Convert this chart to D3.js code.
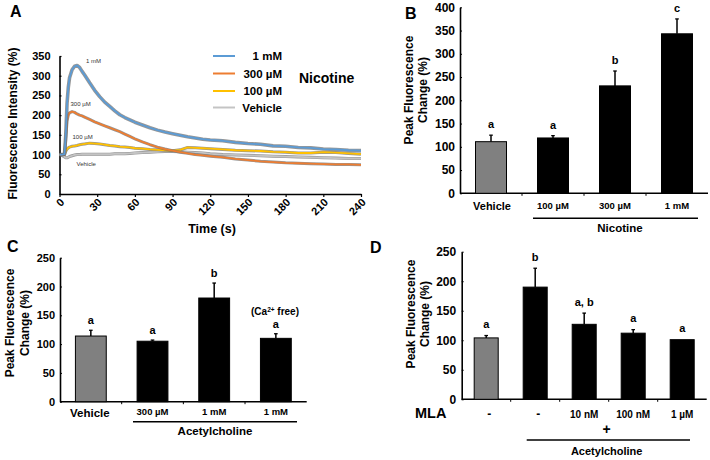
<!DOCTYPE html>
<html><head><meta charset="utf-8">
<script src="https://cdn.jsdelivr.net/npm/d3@7"></script>
<style>body{margin:0;background:#fff}svg{display:block}text{font-family:"Liberation Sans",Arial,sans-serif}</style>
</head><body>
<script>
// ---------- DATA ----------
// Panel A: time course (Nicotine)
const timeA = [0,2,4,5,6,7,8,10,12,14,16,18,20,24,28,32,36,40,44,48,52,56,60,66,72,78,84,90,96,102,108,114,120,130,140,150,160,170,180,190,200,210,220,230,240];
const nic1mM   = [100,100,101,150,230,270,295,315,324,326,321,311,302,282,263,247,233,222,211,201,194,188,182,175,168,162,157,153,149,145,142,139,137,135,131,128,126,122,121,118,117,114,113,111,110];
const nic300uM = [100,99,100,140,185,200,206,209,207,203,200,198,195,189,183,178,173,168,163,158,152,146,140,132,125,119,114,110,106,103,100,98,96,93,89,86,83,81,79,78,77,76,75,75,74];
const nic100uM = [100,100,101,108,114,117,119,121,122,123,125,126,127,129,128,127,125,123,122,120,119,118,116,115,113,112,111,110,112,118,117,116,115,113,111,110,109,107,106,104,104,106,105,103,101];
const vehicleA = [100,98,94,92,92,93,95,97,99,100,100,101,101,101,101,101,101,101,102,102,102,103,104,105,106,107,108,108,107,106,105,104,102,100,99,98,97,96,95,94,93,92,91,90,90];
const seriesNamesA = ["1 mM","300 µM","100 µM","Vehicle"];
const inlineLabelsA = ["1 mM","300 µM","100 µM","Vehicle"];
const yTicksA = [0,50,100,150,200,250,300,350];
const xTicksA = [0,30,60,90,120,150,180,210,240];

// Panel B: peak fluorescence, nicotine
const catsB = ["Vehicle","100 µM","300 µM","1 mM"];
const valsB = [111,119,231,343];
const errB  = [14,5,32,32];
const letB  = ["a","a","b","c"];
const yTicksB = [0,50,100,150,200,250,300,350,400];

// Panel C: acetylcholine
const catsC = ["Vehicle","300 µM","1 mM","1 mM"];
const valsC = [114,105,180,110];
const errC  = [10,2,26,8];
const letC  = ["a","a","b","a"];
const yTicksC = [0,50,100,150,200,250];

// Panel D: MLA + acetylcholine
const catsD = ["-","-","10 nM","100 nM","1 µM"];
const valsD = [104,190,127,112,101];
const errD  = [4,32,19,6,0];
const letD  = ["a","b","a, b","a","a"];
const yTicksD = [0,50,100,150,200,250];

// ---------- DRAW ----------
const svg = d3.select("body").append("svg").attr("width",710).attr("height",460);
const BOLD = "bold";

function txt(x,y,s,size,opts={}){
  const t = svg.append("text").attr("x",x).attr("y",y).text(s)
    .attr("font-size",size).attr("font-weight",opts.weight||BOLD)
    .attr("text-anchor",opts.anchor||"start").attr("fill",opts.fill||"#000");
  if(opts.rotate){ t.attr("transform",`rotate(${opts.rotate},${x},${y})`); }
  if(opts.len){ t.attr("textLength",opts.len).attr("lengthAdjust","spacingAndGlyphs"); }
  return t;
}

// ===== Panel A =====
const xA = d3.scaleLinear().domain([0,240]).range([59.5,361]);
const yA = d3.scaleLinear().domain([0,350]).range([194,56]);

const gyA = svg.append("g").attr("transform",`translate(${xA(0)},0)`)
  .call(d3.axisLeft(yA).tickValues(yTicksA).tickSize(-2).tickSizeOuter(0).tickPadding(9));
const gxA = svg.append("g").attr("transform",`translate(0,${yA(0)})`)
  .call(d3.axisBottom(xA).tickValues(xTicksA).tickSize(3).tickSizeOuter(0));
[gyA,gxA].forEach(g=>{
  g.attr("font-family",null).attr("font-size",null);
  g.select(".domain").attr("stroke","#000").attr("stroke-width",1.6);
  g.selectAll(".tick line").attr("stroke","#000").attr("stroke-width",1.2);
  g.selectAll("text").attr("font-size",11).attr("font-weight",BOLD).attr("fill","#000");
});
gxA.selectAll(".tick text").attr("y",0).attr("dy",0).attr("text-anchor","end")
  .attr("transform","translate(5,9) rotate(-45)");

const colorsA = ["#5b9bd5","#ed7d31","#ffc000","#c4c4c4"];
const dataA = [nic1mM,nic300uM,nic100uM,vehicleA];
const lineA = d3.line().x((d,i)=>xA(timeA[i])).y(d=>yA(d));
const order = [3,2,1,0];
order.forEach(k=>{
  svg.append("path").datum(dataA[k]).attr("d",lineA).attr("fill","none")
    .attr("stroke","#6a6a6a").attr("stroke-width",k===0?3.6:3.0).attr("stroke-opacity",0.7)
    .attr("stroke-linejoin","round");
  svg.append("path").datum(dataA[k]).attr("d",lineA).attr("fill","none")
    .attr("stroke",colorsA[k]).attr("stroke-width",1.8).attr("stroke-linejoin","round");
});
// inline small labels
const inlinePos = [[86,63],[70.5,105.5],[72.5,138.5],[76.5,165.5]];
inlineLabelsA.forEach((s,i)=>txt(inlinePos[i][0],inlinePos[i][1],s,6,{weight:"normal",fill:"#333"}));

// legend
const legY = [56,73.5,91,107.5];
seriesNamesA.forEach((s,i)=>{
  svg.append("line").attr("x1",213).attr("x2",235).attr("y1",legY[i]).attr("y2",legY[i])
    .attr("stroke",colorsA[i]).attr("stroke-width",2);
  txt(282,legY[i]+4,s,11.5,{anchor:"end"});
});
txt(299,82.5,"Nicotine",14);
txt(212,232.5,"Time (s)",12.5,{anchor:"middle"});
txt(17,123.5,"Fluorescence Intensity (%)",12,{anchor:"middle",rotate:-90});
txt(10,17,"A",16);

// ===== Bar panel helper =====
function barPanel(cfg){
  const x = d3.scaleBand().domain(d3.range(cfg.cats.length)).range([cfg.x0,cfg.x1])
    .paddingInner(cfg.pin).paddingOuter(cfg.pout);
  const y = d3.scaleLinear().domain([0,cfg.ymax]).range([cfg.yb,cfg.yt]);
  const gy = svg.append("g").attr("transform",`translate(${cfg.x0},0)`)
    .call(d3.axisLeft(y).tickValues(cfg.ticks).tickSize(-2).tickSizeOuter(0).tickPadding(cfg.tpad));
  gy.attr("font-family",null).attr("font-size",null);
  gy.select(".domain").attr("stroke","#000").attr("stroke-width",1.6);
  gy.selectAll(".tick line").attr("stroke","#000");
  gy.selectAll("text").attr("font-size",cfg.tfs).attr("font-weight",BOLD).attr("fill","#000");
  svg.append("line").attr("x1",cfg.x0).attr("x2",cfg.x1).attr("y1",y(0)).attr("y2",y(0))
    .attr("stroke","#000").attr("stroke-width",1.6);
  const step = x.step();
  d3.range(1,cfg.cats.length).forEach(i=>{
    const xx = cfg.x0 + step*(i - cfg.pin/2) + step*cfg.pout;
    svg.append("line").attr("x1",xx).attr("x2",xx).attr("y1",y(0)).attr("y2",y(0)+2.5)
      .attr("stroke","#000").attr("stroke-width",1);
  });
  cfg.vals.forEach((v,i)=>{
    const bx = x(i), bw = x.bandwidth();
    const cx = bx + bw/2;
    const e = cfg.err[i];
    if(e>0){
      svg.append("line").attr("x1",cx).attr("x2",cx).attr("y1",y(v)).attr("y2",y(v+e))
        .attr("stroke","#000").attr("stroke-width",1.5);
      svg.append("line").attr("x1",cx-1.8).attr("x2",cx+1.8).attr("y1",y(v+e)).attr("y2",y(v+e))
        .attr("stroke","#000").attr("stroke-width",1.3);
    }
    svg.append("rect").attr("x",bx).attr("y",y(v)).attr("width",bw).attr("height",y(0)-y(v))
      .attr("fill",i===0?"#808080":"#000").attr("stroke","#000").attr("stroke-width",1);
    txt(cx, y(v+e)-cfg.lgap, cfg.lets[i], 11, {anchor:"middle"});
  });
  return {x,y};
}

// ===== Panel B =====
const B = barPanel({cats:catsB,vals:valsB,err:errB,lets:letB,ticks:yTicksB,ymax:400,
  x0:460,x1:708,yb:193.3,yt:7.3,pin:0.5,pout:0.25,tpad:5,tfs:12,lgap:7});
catsB.forEach((c,i)=>{
  const cx = B.x(i)+B.x.bandwidth()/2;
  if(i===0) txt(cx+1,210,c,11,{anchor:"middle"});
  else txt(cx,209,c,9.5,{anchor:"middle"});
});
svg.append("line").attr("x1",533).attr("x2",698).attr("y1",218.3).attr("y2",218.3).attr("stroke","#000").attr("stroke-width",1.5);
txt(620,232,"Nicotine",11.5,{anchor:"middle"});
txt(412.5,90,"Peak Fluorescence",12,{anchor:"middle",rotate:-90});
txt(427,90,"Change (%)",12,{anchor:"middle",rotate:-90});
txt(405,18.5,"B",16);

// ===== Panel C =====
const C = barPanel({cats:catsC,vals:valsC,err:errC,lets:letC,ticks:yTicksC,ymax:250,
  x0:60,x1:306.7,yb:401.7,yt:257.7,pin:0.5,pout:0.25,tpad:5,tfs:11,lgap:6});
catsC.forEach((c,i)=>{
  const cx = C.x(i)+C.x.bandwidth()/2;
  if(i===0) txt(cx-1,416.5,c,11.5,{anchor:"middle"});
  else txt(cx,415,c,9.5,{anchor:"middle"});
});
svg.append("line").attr("x1",133).attr("x2",297).attr("y1",421.7).attr("y2",421.7).attr("stroke","#000").attr("stroke-width",1.5);
txt(215,435,"Acetylcholine",11.5,{anchor:"middle"});
{
  const t = txt(275,315,"(Ca",10,{anchor:"middle"});
  t.append("tspan").attr("font-size",6.5).attr("dy",-3.5).text("2+");
  t.append("tspan").attr("dy",3.5).text(" free)");
}
txt(13.5,323,"Peak Fluorescence",12,{anchor:"middle",rotate:-90});
txt(28.5,323,"Change (%)",12,{anchor:"middle",rotate:-90});
txt(7,251.5,"C",16);

// ===== Panel D =====
const D = barPanel({cats:catsD,vals:valsD,err:errD,lets:letD,ticks:yTicksD,ymax:250,
  x0:461.7,x1:706.7,yb:399.3,yt:251.7,pin:0.51,pout:0.255,tpad:5.5,tfs:12,lgap:7.5});
catsD.forEach((c,i)=>{
  const cx = D.x(i)+D.x.bandwidth()/2;
  if(c==="-") txt(cx+3,418,c,12,{anchor:"middle"});
  else txt(cx,418,c,10,{anchor:"middle"});
});
txt(415,418,"MLA",14.5);
txt(606.7,434,"+",14,{anchor:"middle"});
svg.append("line").attr("x1",526.7).attr("x2",690).attr("y1",440).attr("y2",440).attr("stroke","#000").attr("stroke-width",1.5);
txt(606.7,454.5,"Acetylcholine",11,{anchor:"middle"});
txt(414.5,314,"Peak Fluorescence",12,{anchor:"middle",rotate:-90});
txt(429,314,"Change (%)",12,{anchor:"middle",rotate:-90});
txt(370,253,"D",16);
</script>
</body></html>
